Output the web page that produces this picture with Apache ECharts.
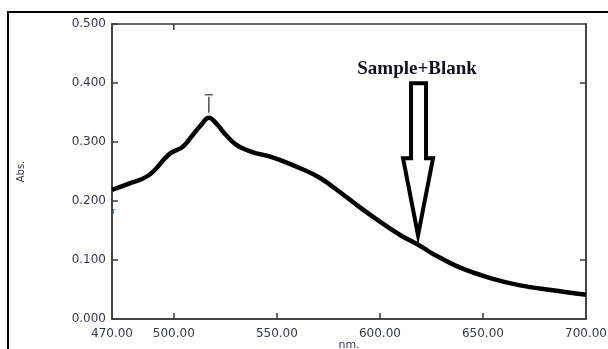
<!DOCTYPE html>
<html>
<head>
<meta charset="utf-8">
<script src="https://cdn.jsdelivr.net/npm/echarts@6/dist/echarts.min.js"></script>
<style>
  html, body { margin: 0; padding: 0; background: #fff; }
  #chart { width: 608px; height: 349px; }
</style>
</head>
<body>
<div id="chart"></div>
<script>
// wavelength (nm) and absorbance
const wavelengths = [470, 478, 488, 498, 504, 509, 513, 517, 521, 524, 530, 538, 546, 552, 561, 571, 581, 590, 600, 610, 620, 625, 639, 654, 668, 683, 700]
const absorbance = [0.219, 0.229, 0.244, 0.280, 0.291, 0.311, 0.328, 0.341, 0.330, 0.317, 0.296, 0.283, 0.276, 0.269, 0.256, 0.239, 0.214, 0.190, 0.165, 0.142, 0.123, 0.112, 0.087, 0.069, 0.057, 0.049, 0.041]
const xTickLabels = [470, 500, 550, 600, 650, 700]
const xInnerTicks = [500, 550, 600, 650]
const topTicks = [500]
const rightTicks = [0.1, 0.4]
const peak = [517, 0.341]
const arrowTip = [618.5, 0.142]
const annotation = 'Sample+Blank'

const axisColor = '#3a3a3a'
const labelColor = '#34384a'
const labelFont = 'DejaVu Sans'

const chart = echarts.init(document.getElementById('chart'))

const option = {
  backgroundColor: '#fff',
  animation: false,
  grid: {
    left: 112, top: 24, right: 22, bottom: 30,
    outerBoundsMode: 'none',
    show: true,
    borderColor: axisColor,
    borderWidth: 1.5,
  },
  xAxis: [
    {
      type: 'value',
      min: 470,
      max: 700,
      name: 'nm.',
      nameLocation: 'middle',
      nameGap: 21,
      nameMoveOverlap: false,
      nameTextStyle: { color: labelColor, fontFamily: labelFont, fontSize: 11 },
      axisLine: { show: true, lineStyle: { color: axisColor, width: 1.5 } },
      axisTick: { inside: true, length: 6, customValues: xInnerTicks, lineStyle: { color: axisColor, width: 1.5 } },
      axisLabel: {
        customValues: xTickLabels,
        color: labelColor,
        fontFamily: labelFont,
        fontSize: 12,
        margin: 9,
        formatter: v => v.toFixed(2),
      },
      splitLine: { show: false },
    },
  ],
  yAxis: [
    {
      type: 'value',
      min: 0,
      max: 0.5,
      interval: 0.1,
      name: 'Abs.',
      nameLocation: 'middle',
      nameGap: 86,
      nameTextStyle: { color: labelColor, fontFamily: labelFont, fontSize: 10 },
      axisLine: { show: true, lineStyle: { color: axisColor, width: 1.5 } },
      axisTick: { show: true, inside: true, length: 6, lineStyle: { color: axisColor, width: 1.5 } },
      axisLabel: {
        color: labelColor,
        fontFamily: labelFont,
        fontSize: 12,
        margin: 6,
        formatter: v => v.toFixed(3),
      },
      splitLine: { show: false },
    },
    {
      type: 'value',
      position: 'right',
      min: 0,
      max: 0.5,
      axisLine: { show: true, lineStyle: { color: axisColor, width: 1.5 } },
      axisTick: { show: true, inside: true, length: 6, customValues: rightTicks, lineStyle: { color: axisColor, width: 1.5 } },
      axisLabel: { show: false },
      splitLine: { show: false },
    },
  ],
  series: [
    {
      type: 'line',
      data: wavelengths.map((w, i) => [w, absorbance[i]]),
      smooth: 0.4,
      symbol: 'none',
      lineStyle: { color: '#000', width: 4.5 },
    },
  ],
}

chart.setOption(option)

// annotations placed from data coordinates
const toPx = v => chart.convertToPixel({ xAxisIndex: 0, yAxisIndex: 0 }, v)
const tip = toPx(arrowTip)
const pk = toPx(peak)
const tx = tip[0], ty = tip[1]

// inward ticks on the top edge
const topTickLines = topTicks.map(v => {
  const p = toPx([v, 0.5])
  return {
    type: 'line',
    shape: { x1: p[0], y1: p[1], x2: p[0], y2: p[1] + 6 },
    style: { stroke: axisColor, lineWidth: 1.5 },
    z: 10,
  }
})

chart.setOption({
  graphic: [
    // outer page frame
    {
      type: 'rect',
      shape: { x: 8, y: 12, width: 720, height: 400 },
      style: { fill: 'none', stroke: '#000', lineWidth: 2 },
      z: 0,
    },
    ...topTickLines,
    {
      type: 'polygon',
      shape: {
        points: [
          [tx - 7, ty - 152], [tx + 8, ty - 152], [tx + 8, ty - 77],
          [tx + 15, ty - 77], [tx, ty], [tx - 15, ty - 77], [tx - 7, ty - 77],
        ],
      },
      style: { fill: '#fff', stroke: '#000', lineWidth: 4, lineJoin: 'miter' },
      z: 10,
    },
    {
      type: 'text',
      x: tx - 1,
      y: ty - 166,
      style: {
        text: annotation,
        fill: '#111122',
        font: 'bold 19px "Liberation Serif"',
        align: 'center',
        verticalAlign: 'middle',
      },
      z: 10,
    },
    // peak marker
    {
      type: 'line',
      shape: { x1: pk[0], y1: pk[1] - 21, x2: pk[0], y2: pk[1] - 5 },
      style: { stroke: '#222', lineWidth: 1.2 },
      z: 10,
    },
    {
      type: 'line',
      shape: { x1: pk[0] - 4, y1: pk[1] - 23, x2: pk[0] + 4, y2: pk[1] - 23 },
      style: { stroke: '#333', lineWidth: 1.2 },
      z: 10,
    },
    {
      type: 'text',
      x: 114,
      y: 212,
      style: { text: 'r', fill: '#4a78c0', font: '9px "DejaVu Sans"', align: 'center', verticalAlign: 'middle' },
      z: 10,
    },
  ],
})
</script>
</body>
</html>
